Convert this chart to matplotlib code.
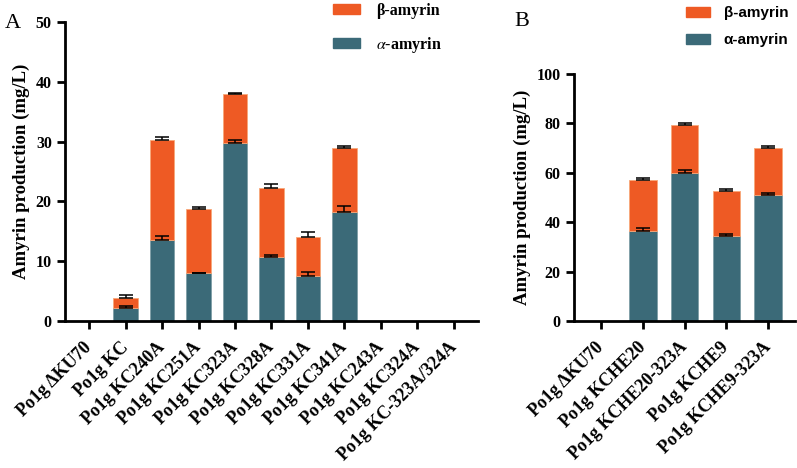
import numpy as np
import matplotlib
matplotlib.use('Agg')
import matplotlib.pyplot as plt
from matplotlib.patches import Patch

# Panel A data (mg/L)
labels_a = ['Po1g ΔKU70', 'Po1g KC', 'Po1g KC240A', 'Po1g KC251A', 'Po1g KC323A',
            'Po1g KC328A', 'Po1g KC331A', 'Po1g KC341A', 'Po1g KC243A',
            'Po1g KC324A', 'Po1g KC-323A/324A']
alpha_a = [0, 2.2, 13.5, 8.0, 29.8, 10.7, 7.6, 18.2, 0, 0, 0]
beta_a = [0, 1.7, 16.7, 10.8, 8.1, 11.6, 6.5, 10.8, 0, 0, 0]
alpha_err_a = [0, 0.35, 0.7, 0.1, 0.4, 0.4, 0.6, 1.1, 0, 0, 0]
total_err_a = [0, 0.45, 0.5, 0.3, 0.3, 0.6, 0.8, 0.3, 0, 0, 0]

# Panel B data (mg/L)
labels_b = ['Po1g ΔKU70', 'Po1g KCHE20', 'Po1g KCHE20-323A', 'Po1g KCHE9', 'Po1g KCHE9-323A']
alpha_b = [0, 36.6, 59.9, 34.4, 51.0]
beta_b = [0, 20.6, 19.5, 18.4, 18.9]
alpha_err_b = [0, 0.9, 1.1, 1.0, 1.0]
total_err_b = [0, 0.8, 0.8, 0.8, 1.0]

ORANGE = '#EE5A24'
TEAL = '#3B6A78'
SERIF = 'Liberation Serif'
SANS = 'Liberation Sans'

plt.rcParams['font.family'] = SERIF
plt.rcParams['mathtext.fontset'] = 'stix'


def draw_panel(ax, labels, alpha, beta, alpha_err, total_err, ymax, width):
    x = np.arange(len(labels))
    alpha = np.array(alpha)
    beta = np.array(beta)
    total = alpha + beta
    ax.bar(x, alpha, width, color=TEAL, edgecolor='#7f9ea6', linewidth=0.6, zorder=2)
    ax.bar(x, beta, width, bottom=alpha, color=ORANGE, edgecolor='#f8a878',
           linewidth=0.6, zorder=2)
    # error bars only point upward, skip empty strains
    m = total > 0
    zeros = np.zeros(m.sum())
    ax.errorbar(x[m], alpha[m], yerr=[zeros, np.array(alpha_err)[m]], fmt='none',
                ecolor='black', elinewidth=1.1, capsize=5, capthick=1.1, zorder=3)
    ax.errorbar(x[m], total[m], yerr=[zeros, np.array(total_err)[m]], fmt='none',
                ecolor='black', elinewidth=1.1, capsize=5, capthick=1.1, zorder=3)

    ax.set_ylim(0, ymax)
    ax.set_xlim(-0.66, len(labels) - 1 + 0.66)
    ax.set_xticks(x)
    ax.set_xticklabels(labels, rotation=45, ha='right', va='center',
                       rotation_mode='anchor',
                       fontsize=13, fontweight='bold', family=SERIF)
    ax.spines['top'].set_visible(False)
    ax.spines['right'].set_visible(False)
    for s in ('left', 'bottom'):
        ax.spines[s].set_linewidth(2)
    ax.tick_params(axis='both', width=2, length=6, direction='out')
    ax.tick_params(axis='x', pad=11)
    ax.set_ylabel('Amyrin production (mg/L)', fontsize=13.5, fontweight='bold')


def bold_yticks(ax):
    for t in ax.get_yticklabels():
        t.set_fontweight('bold')
        t.set_fontsize(11.5)


fig = plt.figure(figsize=(7.97, 4.68), dpi=100)

ax_a = fig.add_axes([0.0816, 0.314, 0.518, 0.639])
draw_panel(ax_a, labels_a, alpha_a, beta_a, alpha_err_a, total_err_a, 50, 0.68)
ax_a.set_yticks(np.arange(0, 51, 10))
bold_yticks(ax_a)

ax_b = fig.add_axes([0.720, 0.314, 0.278, 0.528])
draw_panel(ax_b, labels_b, alpha_b, beta_b, alpha_err_b, total_err_b, 100, 0.66)
ax_b.set_yticks(np.arange(0, 101, 20))
bold_yticks(ax_b)

fig.text(0.006, 0.950, 'A', fontsize=16, family=SERIF, va='center')
fig.text(0.646, 0.953, 'B', fontsize=16, family=SERIF, va='center')

handles_a = [Patch(color=ORANGE, label='β-amyrin'),
             Patch(color=TEAL, label=r'$\alpha$-amyrin')]
fig.legend(handles=handles_a, loc='upper left', bbox_to_anchor=(0.400, 1.025),
           frameon=False, handlelength=1.7, handleheight=0.6,
           labelspacing=1.0, handletextpad=1.0,
           prop={'family': SERIF, 'weight': 'bold', 'size': 11.5})

handles_b = [Patch(color=ORANGE, label='β-amyrin'),
             Patch(color=TEAL, label='α-amyrin')]
fig.legend(handles=handles_b, loc='upper left', bbox_to_anchor=(0.843, 1.016),
           frameon=False, handlelength=1.6, handleheight=0.6,
           labelspacing=0.85, handletextpad=0.9,
           prop={'family': SANS, 'weight': 'bold', 'size': 11})

fig.savefig('out.png', dpi=100)
